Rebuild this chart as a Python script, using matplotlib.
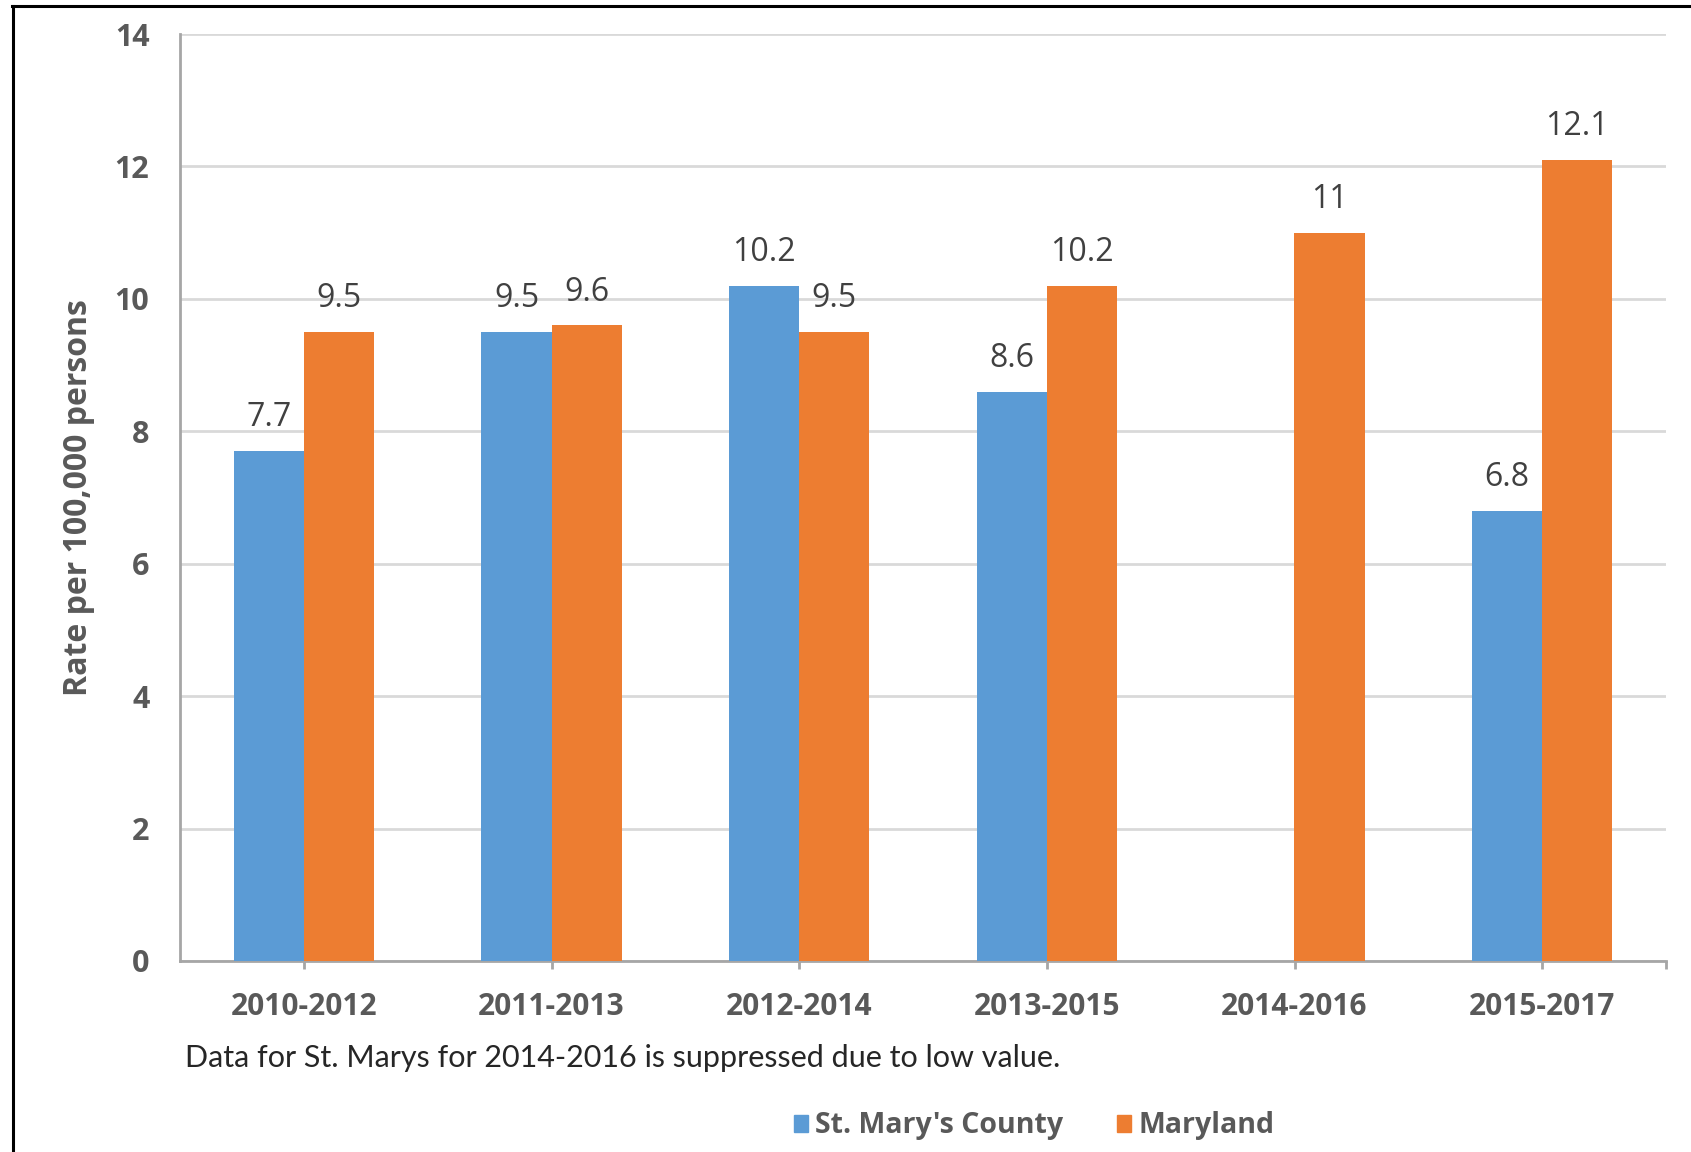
import matplotlib
matplotlib.use("Agg")
import matplotlib.pyplot as plt
import numpy as np
from matplotlib.lines import Line2D
from matplotlib.patches import Patch

categories = ["2010-2012", "2011-2013", "2012-2014", "2013-2015", "2014-2016", "2015-2017"]
st_marys = [7.7, 9.5, 10.2, 8.6, None, 6.8]
maryland = [9.5, 9.6, 9.5, 10.2, 11, 12.1]
series_names = ["St. Mary's County", "Maryland"]
y_ticks = [0, 2, 4, 6, 8, 10, 12, 14]
y_label = "Rate per 100,000 persons"
footnote = "Data for St. Marys for 2014-2016 is suppressed due to low value."

BLUE = "#5B9BD5"
ORANGE = "#ED7D31"
GRAY = "#595959"

plt.rcParams['font.family'] = ['Open Sans', 'DejaVu Sans']

fig = plt.figure(figsize=(16.91, 11.52), dpi=100)
ax = fig.add_axes([180/1691, 191/1152, (1666-180)/1691, (961-34)/1152])

x = np.arange(len(categories))
w = 0.283

def fmt(v):
    return f"{v:g}"

for i, v in enumerate(st_marys):
    if v is None:
        continue
    ax.bar(x[i] - w/2, v, w, color=BLUE, zorder=3)
    ax.annotate(fmt(v), (x[i] - w/2, v), xytext=(0, 24), textcoords='offset points',
                ha='center', va='center', fontsize=23, color="#404040")
for i, v in enumerate(maryland):
    ax.bar(x[i] + w/2, v, w, color=ORANGE, zorder=3)
    ax.annotate(fmt(v), (x[i] + w/2, v), xytext=(0, 24), textcoords='offset points',
                ha='center', va='center', fontsize=23, color="#404040")

ax.set_xlim(-0.5, len(categories) - 0.5)
ax.set_ylim(0, 14)
ax.set_yticks(y_ticks)
ax.set_yticklabels([str(t) for t in y_ticks], fontsize=22, fontweight='bold', color=GRAY)
ax.set_xticks(x)
ax.set_xticklabels(categories, fontsize=21.5, fontweight='bold', color=GRAY)
ax.tick_params(axis='y', length=0, pad=22)
ax.tick_params(axis='x', length=6, width=2, color="#A6A6A6", pad=16)
# extra tick at the right end
ax.set_xticks([len(categories) - 0.5], minor=True)
ax.tick_params(axis='x', which='minor', length=6, width=2, color="#A6A6A6")

ax.grid(axis='y', color="#D9D9D9", linewidth=2, zorder=0)
for s in ['top', 'right']:
    ax.spines[s].set_visible(False)
for s in ['left', 'bottom']:
    ax.spines[s].set_color("#A6A6A6")
    ax.spines[s].set_linewidth(2)

ax.set_ylabel(y_label, fontsize=23, fontweight='bold', color=GRAY)
ax.yaxis.set_label_coords((95-180)/1486, 0.5)

fig.text(185/1691, 1 - 1058/1152, footnote, fontsize=22, color="#262626",
         family=['Lato', 'DejaVu Sans'], ha='left', va='center')

handles = [Patch(color=BLUE, label=series_names[0]), Patch(color=ORANGE, label=series_names[1])]
leg = fig.legend(handles=handles, loc='center', bbox_to_anchor=(1034/1691, 1 - 1126/1152),
                 ncol=2, frameon=False, handlelength=0.5, handleheight=0.5,
                 handletextpad=0.25, columnspacing=1.9,
                 prop={'size': 20.5, 'weight': 'bold', 'family': ['Open Sans', 'DejaVu Sans']})
for t in leg.get_texts():
    t.set_color(GRAY)

# outer border (top and left)
fig.add_artist(Line2D([12/1691, 1.0], [1 - 6/1152, 1 - 6/1152], color='black', linewidth=2.2,
                      transform=fig.transFigure))
fig.add_artist(Line2D([13/1691, 13/1691], [0, 1 - 6/1152], color='black', linewidth=2.2,
                      transform=fig.transFigure))

fig.savefig("out.png", dpi=100)
